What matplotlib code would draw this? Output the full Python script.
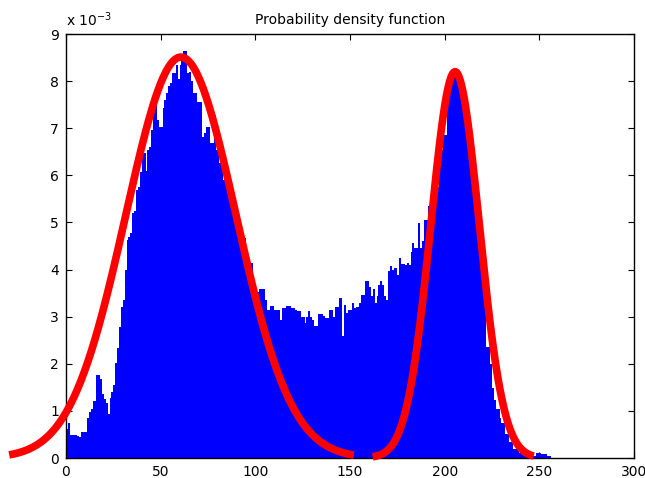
import numpy as np
import matplotlib
matplotlib.use('Agg')
import matplotlib.pyplot as plt

# histogram heights (x 1e-3) for bins 0..255
density = [
    0.62, 0.74, 0.49, 0.48, 0.48, 0.48, 0.47, 0.45, 0.55, 0.56,
    0.56, 0.84, 0.98, 1.05, 1.20, 1.22, 1.76, 1.76, 1.68, 1.35,
    1.25, 1.16, 0.93, 1.27, 1.40, 1.55, 2.01, 2.33, 2.79, 3.21,
    3.35, 3.99, 4.63, 4.70, 4.77, 5.19, 5.25, 5.69, 5.75, 6.08,
    6.47, 6.47, 6.10, 6.54, 6.60, 6.96, 7.53, 7.53, 7.18, 7.03,
    7.03, 7.42, 7.60, 7.74, 7.90, 7.95, 8.17, 8.17, 8.34, 8.05,
    8.34, 8.55, 8.63, 8.63, 8.17, 8.20, 8.00, 7.74, 7.74, 7.56,
    7.56, 7.56, 6.82, 6.90, 7.03, 7.03, 6.68, 6.68, 7.28, 6.54,
    6.54, 6.26, 6.26, 5.90, 5.90, 5.62, 5.62, 5.34, 5.34, 5.16,
    5.16, 4.66, 4.66, 4.66, 4.66, 4.24, 4.24, 4.13, 4.13, 3.60,
    3.60, 3.53, 3.58, 3.58, 3.58, 3.35, 3.14, 3.14, 3.23, 3.23,
    3.14, 3.14, 3.14, 2.93, 3.18, 3.18, 3.23, 3.23, 3.23, 3.18,
    3.18, 3.14, 3.11, 3.11, 3.00, 3.00, 2.87, 3.00, 3.13, 3.00,
    2.93, 2.80, 2.80, 3.05, 3.05, 3.05, 3.01, 2.97, 2.97, 3.14,
    3.14, 3.00, 3.21, 3.21, 3.39, 3.39, 2.58, 3.25, 3.07, 3.14,
    3.14, 3.30, 3.18, 3.21, 3.21, 3.28, 3.46, 3.46, 3.76, 3.76,
    3.64, 3.43, 3.58, 3.28, 3.43, 3.67, 3.76, 3.67, 3.43, 3.35,
    3.96, 4.08, 4.00, 4.03, 4.03, 3.88, 4.24, 4.12, 4.12, 4.10,
    4.13, 4.10, 4.38, 4.56, 4.45, 4.45, 4.98, 4.45, 4.60, 5.05,
    5.05, 5.34, 5.41, 5.27, 5.27, 5.76, 5.76, 6.19, 6.54, 6.86,
    6.86, 7.39, 7.67, 7.94, 8.13, 8.24, 8.24, 7.94, 7.94, 7.94,
    7.60, 7.32, 7.32, 6.75, 6.33, 6.33, 5.69, 5.12, 4.49, 4.49,
    3.85, 3.25, 2.36, 2.36, 2.00, 1.48, 1.23, 1.05, 1.05, 0.84,
    0.74, 0.74, 0.52, 0.52, 0.35, 0.35, 0.20, 0.20, 0.20, 0.10,
    0.10, 0.10, 0.08, 0.04, 0.04, 0.04, 0.04, 0.04, 0.10, 0.10,
    0.11, 0.08, 0.08, 0.08, 0.04, 0.04,
]
bins = np.arange(len(density))

# fitted mixture components: mean, sigma, peak height (x 1e-3), x range drawn
comp_means = [60.7, 205.5]
comp_sigmas = [29.1, 12.75]
comp_peaks = [8.51, 8.20]
comp_ranges = [(-30, 152), (162, 247)]

title = 'Probability density function'

fig = plt.figure(figsize=(6.45, 4.78), dpi=100)
ax = fig.add_axes([66/645, 1-458/478, (634-66)/645, (458-34)/478])

ax.bar(bins, density, width=1.0, align='edge', color='#0000ff',
       linewidth=0, antialiased=False, zorder=2)

for mu, sd, pk, (x0, x1) in zip(comp_means, comp_sigmas, comp_peaks, comp_ranges):
    xs = np.linspace(x0, x1, 400)
    ax.plot(xs, pk*np.exp(-(xs-mu)**2/(2*sd**2)), color='#ff0000',
            linewidth=5.5, clip_on=False, zorder=3, solid_capstyle='butt')

ax.set_xlim(0, 300)
ax.set_ylim(0, 9)
ax.set_xticks(np.arange(0, 301, 50))
ax.set_yticks(np.arange(0, 10, 1))
ax.tick_params(direction='in', top=True, right=True, length=4, width=0.8,
               labelsize=10, pad=5)
for s in ax.spines.values():
    s.set_linewidth(1.0)

ax.set_title(title, fontsize=10, pad=7)
fig.text(66/645, 1-26/478, r'x 10$^{-3}$', fontsize=10, ha='left', va='baseline')

fig.savefig('out.png', dpi=100)
